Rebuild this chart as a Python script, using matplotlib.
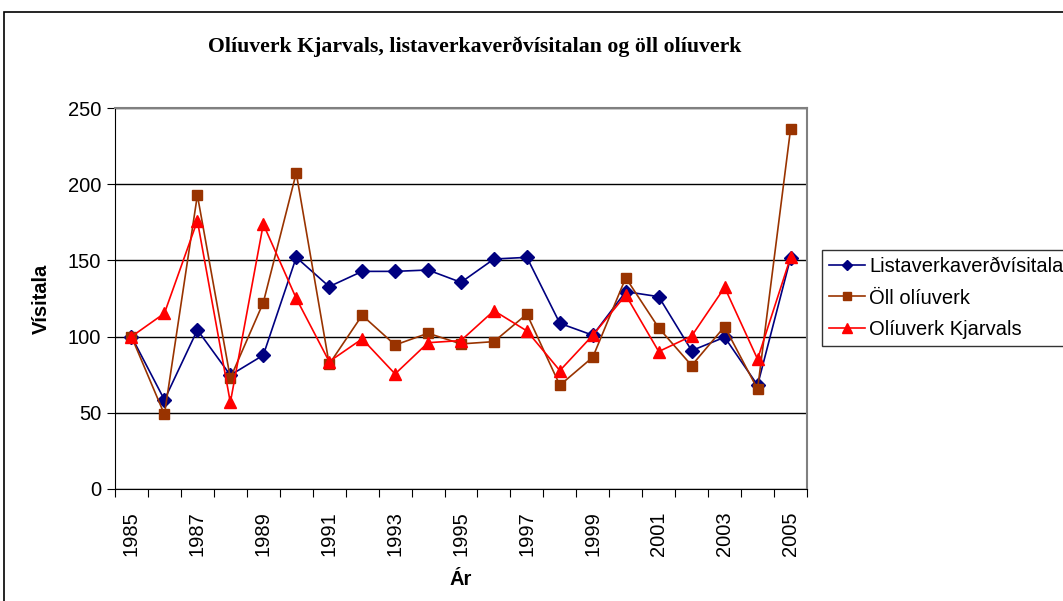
import numpy as np
import matplotlib.pyplot as plt
from matplotlib.patches import Rectangle

# Data
years = list(range(1985, 2006))
listaverk = [100, 58.5, 104.4, 74.7, 87.8, 152, 132.8, 142.8, 142.8, 143.7, 135.6,
             150.9, 152, 108.7, 100.9, 129.5, 126.2, 90.8, 99.6, 68.1, 151.5]
oll_oliuverk = [100, 48.9, 192.8, 72.7, 122.3, 207.4, 81.9, 114, 94.5, 102.2, 95.2,
                96.7, 114.8, 68.1, 86.5, 138.6, 105.7, 81, 106.6, 65.5, 236]
kjarval = [100, 115.3, 176, 56.8, 173.8, 125.1, 83.6, 98.5, 75.5, 96, 97.4,
           117, 103.7, 77.7, 100.9, 127.3, 90.2, 100.4, 132.3, 85.2, 152]
series_names = ['Listaverkaverðvísitala', 'Öll olíuverk', 'Olíuverk Kjarvals']
y_ticks = [0, 50, 100, 150, 200, 250]

W, H = 1063, 601
fig = plt.figure(figsize=(W / 100, H / 100), dpi=100)
plt.rcParams['font.family'] = ['Liberation Sans', 'DejaVu Sans']

# outer chart border (clipped on right/bottom like the original)
fig.patches.append(Rectangle((4 / W, -0.1), 1.2, (H - 12) / H + 0.1,
                             transform=fig.transFigure, fill=False,
                             edgecolor='black', linewidth=1.2))

ax = fig.add_axes([115 / W, 1 - 489 / H, (807 - 115) / W, (489 - 108) / H])

x = np.arange(len(years))
ax.plot(x, listaverk, color='#000080', marker='D', markersize=7, linewidth=1.2,
        label=series_names[0])
ax.plot(x, oll_oliuverk, color='#993300', marker='s', markersize=7, linewidth=1.2,
        label=series_names[1])
ax.plot(x, kjarval, color='#FF0000', marker='^', markersize=8.5, linewidth=1.2,
        label=series_names[2])

ax.set_xlim(-0.5, len(years) - 0.5)
ax.set_ylim(0, 250)
ax.set_yticks(y_ticks)
ax.yaxis.grid(True, color='black', linewidth=1)
ax.set_axisbelow(True)

# category boundaries get tick marks, every other year gets a label
ax.set_xticks(np.arange(-0.5, len(years), 1.0))
ax.set_xticklabels([])
ax.set_xticks(x[::2], minor=True)
ax.set_xticklabels([str(y) for y in years[::2]], minor=True, rotation=90, fontsize=14.5)
ax.tick_params(axis='x', which='minor', length=0, pad=16)
ax.tick_params(axis='x', which='major', length=6, direction='out', color='black')
ax.tick_params(axis='y', length=6, direction='out', labelsize=14.5, pad=4)

for side in ['top', 'right']:
    ax.spines[side].set_color('#808080')
    ax.spines[side].set_linewidth(1.5)
for side in ['left', 'bottom']:
    ax.spines[side].set_color('black')

ax.set_ylabel('Vísitala', fontsize=14.5, fontweight='bold', labelpad=12)
ax.set_xlabel('Ár', fontsize=14.5, fontweight='bold', labelpad=10)

fig.text(475 / W, 1 - 47 / H, 'Olíuverk Kjarvals, listaverkaverðvísitalan og öll olíuverk',
         ha='center', va='center', fontsize=15.7, fontweight='bold',
         family=['Liberation Serif', 'DejaVu Serif'])

leg = ax.legend(loc='upper left', bbox_to_anchor=(822 / W, 1 - 250 / H),
                bbox_transform=fig.transFigure, fontsize=14.5, frameon=True,
                fancybox=False, edgecolor='black', handlelength=1.8,
                borderaxespad=0, labelspacing=0.62, handletextpad=0.2,
                borderpad=0.35, markerscale=0.8)
leg.get_frame().set_linewidth(1)

fig.savefig('out.png', dpi=100)
